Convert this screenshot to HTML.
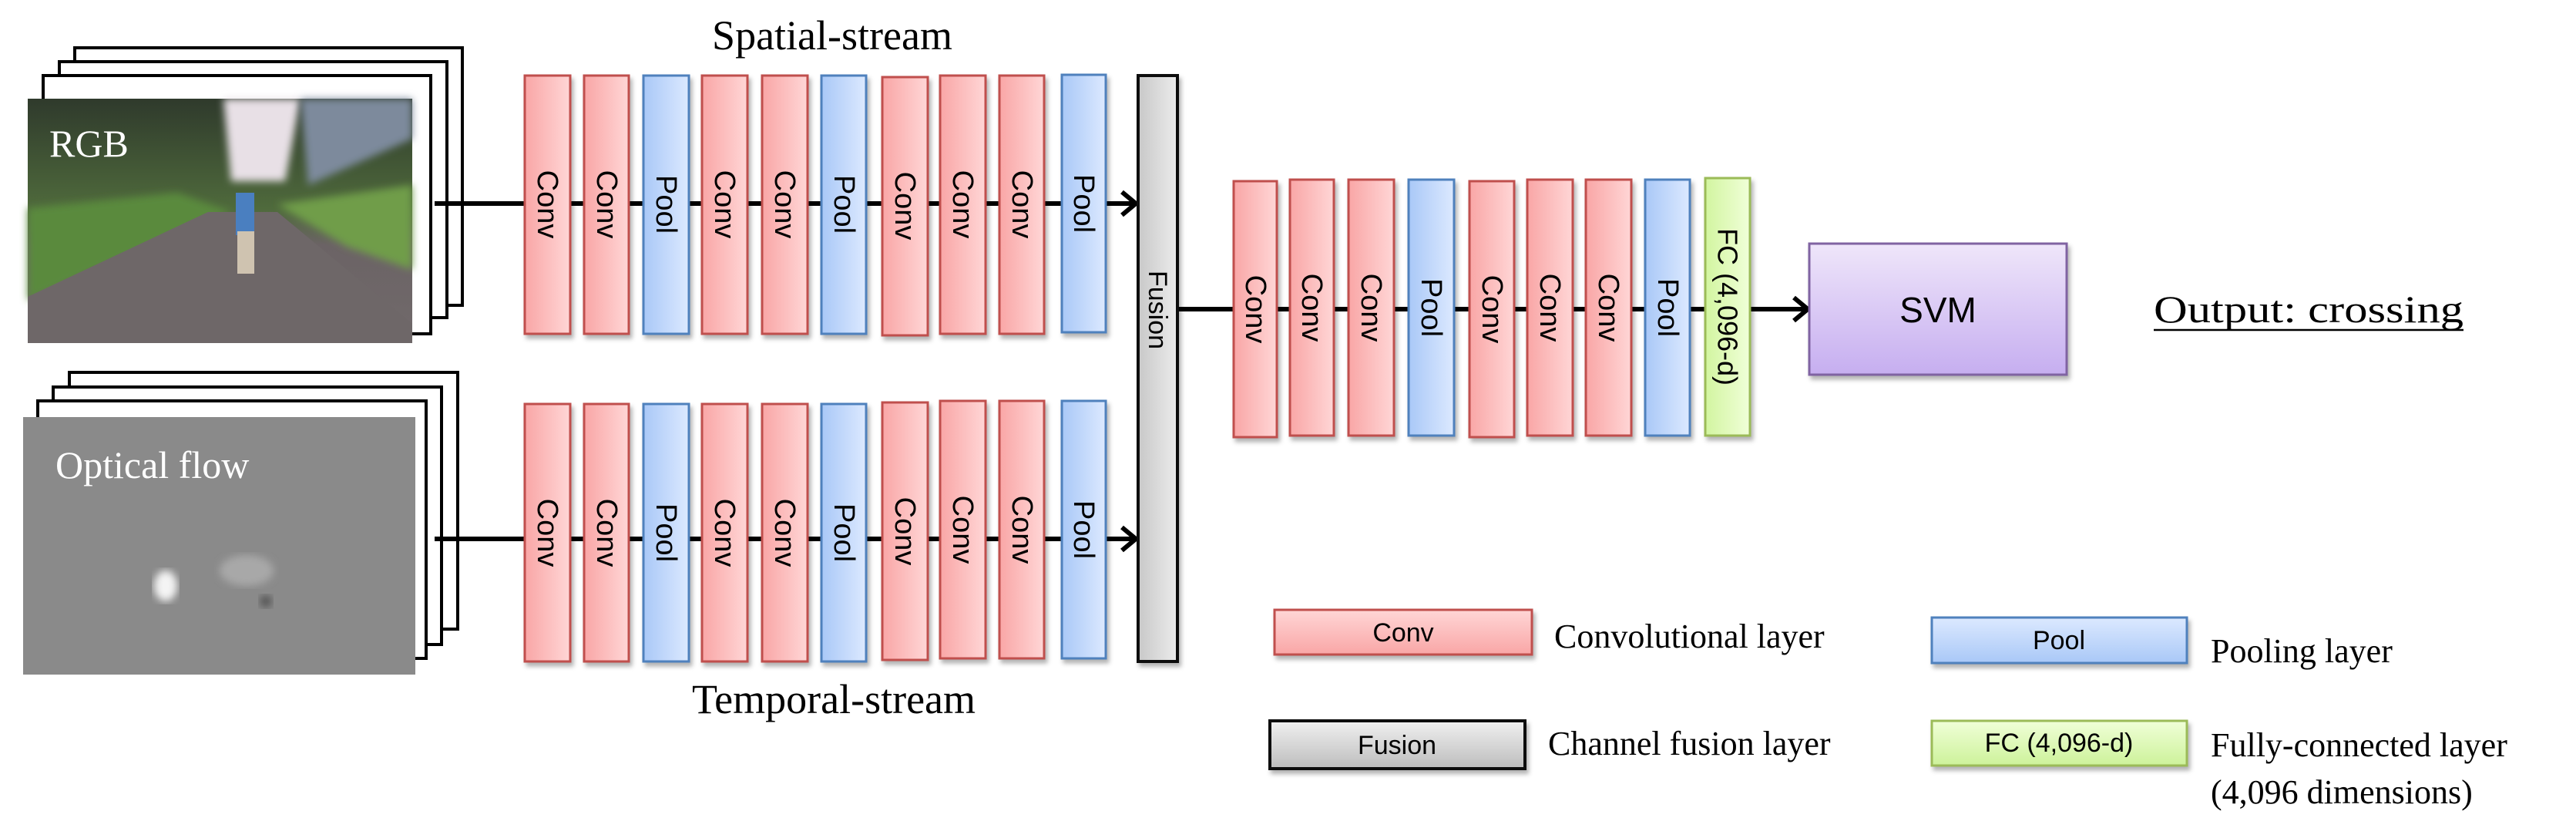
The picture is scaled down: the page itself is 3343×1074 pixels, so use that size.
<!DOCTYPE html>
<html><head><meta charset="utf-8"><style>
html,body{margin:0;padding:0;background:#fff}
svg{display:block}
.s{font-family:"Liberation Sans",sans-serif}
.t{font-family:"Liberation Serif",serif}
</style></head><body>
<svg width="3343" height="1074" viewBox="0 0 3343 1074" xmlns="http://www.w3.org/2000/svg">
<defs>
<linearGradient id="gc" x1="0" y1="0" x2="1" y2="0"><stop offset="0" stop-color="#f9a6a6"/><stop offset="1" stop-color="#ffd6d6"/></linearGradient>
<linearGradient id="gp" x1="0" y1="0" x2="1" y2="0"><stop offset="0" stop-color="#a9c8f7"/><stop offset="1" stop-color="#dce9ff"/></linearGradient>
<linearGradient id="gf" x1="0" y1="0" x2="1" y2="0"><stop offset="0" stop-color="#c8c8c8"/><stop offset="1" stop-color="#ececec"/></linearGradient>
<linearGradient id="gg" x1="0" y1="0" x2="1" y2="0"><stop offset="0" stop-color="#d2f5a0"/><stop offset="1" stop-color="#f0ffd8"/></linearGradient>
<linearGradient id="gcv" x1="0" y1="0" x2="0" y2="1"><stop offset="0" stop-color="#ffd6d6"/><stop offset="1" stop-color="#f9a6a6"/></linearGradient>
<linearGradient id="gpv" x1="0" y1="0" x2="0" y2="1"><stop offset="0" stop-color="#dce9ff"/><stop offset="1" stop-color="#a9c8f7"/></linearGradient>
<linearGradient id="gfv" x1="0" y1="0" x2="0" y2="1"><stop offset="0" stop-color="#f0f0f0"/><stop offset="1" stop-color="#bdbdbd"/></linearGradient>
<linearGradient id="ggv" x1="0" y1="0" x2="0" y2="1"><stop offset="0" stop-color="#f0ffd8"/><stop offset="1" stop-color="#cdf29a"/></linearGradient>
<linearGradient id="gsvm" x1="0" y1="0" x2="0" y2="1"><stop offset="0" stop-color="#efe6fa"/><stop offset="1" stop-color="#c6aef0"/></linearGradient>
<linearGradient id="road" x1="0" y1="0" x2="0" y2="1"><stop offset="0" stop-color="#2f3a2c"/><stop offset="0.45" stop-color="#4f6a3c"/><stop offset="0.6" stop-color="#6b6365"/><stop offset="1" stop-color="#716a6b"/></linearGradient>
<filter id="sh" x="-20%" y="-20%" width="140%" height="140%"><feDropShadow dx="3" dy="5" stdDeviation="3" flood-color="#000" flood-opacity="0.3"/></filter>
<filter id="bl"><feGaussianBlur stdDeviation="5"/></filter>
<marker id="ar" markerWidth="30" markerHeight="36" refX="24" refY="18" orient="auto" markerUnits="userSpaceOnUse" viewBox="0 0 30 36"><path d="M6 3 L24 18 L6 33" fill="none" stroke="#000" stroke-width="6"/></marker>
</defs>

<!-- top stack -->
<g fill="#fff" stroke="#000" stroke-width="4">
<rect x="97" y="62" width="503" height="334"/>
<rect x="77" y="80" width="503" height="332"/>
<rect x="56" y="98" width="503" height="335"/>
</g>
<g>
<rect x="36" y="128" width="499" height="317" fill="url(#road)"/>
<polygon points="290,128 390,128 370,235 300,235" fill="#e8e0e6" filter="url(#bl)"/>
<polygon points="390,128 535,128 535,180 400,240" fill="#7d8a9c" filter="url(#bl)"/>
<polygon points="36,270 230,250 300,275 36,390" fill="#5a8a3c" filter="url(#bl)"/>
<polygon points="360,265 535,240 535,350 450,320" fill="#6f9d4a" filter="url(#bl)"/>
<polygon points="36,385 270,275 360,275 535,420 535,445 36,445" fill="#6e6768"/>
<rect x="306" y="250" width="24" height="55" fill="#4a7fc0"/>
<rect x="308" y="300" width="22" height="55" fill="#cfc3b0"/>
</g>
<text x="64" y="203" class="t" font-size="50" fill="#fff">RGB</text>

<!-- bottom stack -->
<g fill="#fff" stroke="#000" stroke-width="4">
<rect x="90" y="483" width="504" height="333"/>
<rect x="69" y="502" width="504" height="334"/>
<rect x="49" y="520" width="504" height="334"/>
</g>
<rect x="30" y="541" width="509" height="334" fill="#8a8a8a"/>
<ellipse cx="215" cy="760" rx="15" ry="20" fill="#f4f4f4" filter="url(#bl)"/>
<ellipse cx="320" cy="740" rx="35" ry="20" fill="#a8a8a8" filter="url(#bl)"/>
<ellipse cx="345" cy="780" rx="8" ry="8" fill="#555" filter="url(#bl)"/>
<text x="72" y="620" class="t" font-size="50" fill="#fff">Optical flow</text>

<!-- arrows -->
<line x1="564" y1="264" x2="1474" y2="264" stroke="#000" stroke-width="6" marker-end="url(#ar)"/>
<line x1="564" y1="699" x2="1474" y2="699" stroke="#000" stroke-width="6" marker-end="url(#ar)"/>
<line x1="1528" y1="401" x2="2346" y2="401" stroke="#000" stroke-width="6" marker-end="url(#ar)"/>

<text x="1080" y="64" text-anchor="middle" class="t" font-size="54">Spatial-stream</text>
<text x="1082" y="925" text-anchor="middle" class="t" font-size="54">Temporal-stream</text>

<g filter="url(#sh)" stroke-width="3">
<rect x="681" y="98" width="59" height="335" fill="url(#gc)" stroke="#c0504d"/>
<rect x="758" y="98" width="58" height="335" fill="url(#gc)" stroke="#c0504d"/>
<rect x="835" y="98" width="59" height="335" fill="url(#gp)" stroke="#4f81bd"/>
<rect x="911" y="98" width="59" height="335" fill="url(#gc)" stroke="#c0504d"/>
<rect x="989" y="98" width="59" height="335" fill="url(#gc)" stroke="#c0504d"/>
<rect x="1066" y="98" width="58" height="335" fill="url(#gp)" stroke="#4f81bd"/>
<rect x="1145" y="100" width="59" height="335" fill="url(#gc)" stroke="#c0504d"/>
<rect x="1220" y="98" width="59" height="335" fill="url(#gc)" stroke="#c0504d"/>
<rect x="1297" y="98" width="58" height="335" fill="url(#gc)" stroke="#c0504d"/>
<rect x="1378" y="97" width="57" height="334" fill="url(#gp)" stroke="#4f81bd"/>
<rect x="681" y="524" width="59" height="334" fill="url(#gc)" stroke="#c0504d"/>
<rect x="758" y="524" width="58" height="334" fill="url(#gc)" stroke="#c0504d"/>
<rect x="835" y="524" width="59" height="334" fill="url(#gp)" stroke="#4f81bd"/>
<rect x="911" y="524" width="59" height="334" fill="url(#gc)" stroke="#c0504d"/>
<rect x="989" y="524" width="59" height="334" fill="url(#gc)" stroke="#c0504d"/>
<rect x="1066" y="524" width="58" height="334" fill="url(#gp)" stroke="#4f81bd"/>
<rect x="1145" y="522" width="59" height="334" fill="url(#gc)" stroke="#c0504d"/>
<rect x="1220" y="520" width="59" height="334" fill="url(#gc)" stroke="#c0504d"/>
<rect x="1297" y="520" width="58" height="334" fill="url(#gc)" stroke="#c0504d"/>
<rect x="1378" y="520" width="57" height="334" fill="url(#gp)" stroke="#4f81bd"/>
<rect x="1477" y="98" width="51" height="760" fill="url(#gf)" stroke="#111" stroke-width="4"/>
<rect x="1601" y="235" width="56" height="332" fill="url(#gc)" stroke="#c0504d"/>
<rect x="1674" y="233" width="57" height="332" fill="url(#gc)" stroke="#c0504d"/>
<rect x="1750" y="233" width="59" height="332" fill="url(#gc)" stroke="#c0504d"/>
<rect x="1828" y="233" width="59" height="332" fill="url(#gp)" stroke="#4f81bd"/>
<rect x="1907" y="235" width="58" height="332" fill="url(#gc)" stroke="#c0504d"/>
<rect x="1982" y="233" width="59" height="332" fill="url(#gc)" stroke="#c0504d"/>
<rect x="2058" y="233" width="59" height="332" fill="url(#gc)" stroke="#c0504d"/>
<rect x="2135" y="233" width="58" height="332" fill="url(#gp)" stroke="#4f81bd"/>
<rect x="2213" y="231" width="58" height="334" fill="url(#gg)" stroke="#9bbb59"/>
<rect x="2348" y="316" width="334" height="170" fill="url(#gsvm)" stroke="#8064a2"/>
<rect x="1654" y="791" width="334" height="58" fill="url(#gcv)" stroke="#c0504d"/>
<rect x="2507" y="801" width="331" height="59" fill="url(#gpv)" stroke="#4f81bd"/>
<rect x="1648" y="935" width="331" height="62" fill="url(#gfv)" stroke="#111" stroke-width="4"/>
<rect x="2507" y="935" width="331" height="58" fill="url(#ggv)" stroke="#9bbb59"/>
</g>

<g class="s" font-size="38" fill="#000" text-anchor="middle" dominant-baseline="central">
<text transform="translate(710,265) rotate(90)">Conv</text>
<text transform="translate(787,265) rotate(90)">Conv</text>
<text transform="translate(864,265) rotate(90)">Pool</text>
<text transform="translate(940,265) rotate(90)">Conv</text>
<text transform="translate(1018,265) rotate(90)">Conv</text>
<text transform="translate(1095,265) rotate(90)">Pool</text>
<text transform="translate(1174,267) rotate(90)">Conv</text>
<text transform="translate(1249,265) rotate(90)">Conv</text>
<text transform="translate(1326,265) rotate(90)">Conv</text>
<text transform="translate(1406,264) rotate(90)">Pool</text>
<text transform="translate(710,691) rotate(90)">Conv</text>
<text transform="translate(787,691) rotate(90)">Conv</text>
<text transform="translate(864,691) rotate(90)">Pool</text>
<text transform="translate(940,691) rotate(90)">Conv</text>
<text transform="translate(1018,691) rotate(90)">Conv</text>
<text transform="translate(1095,691) rotate(90)">Pool</text>
<text transform="translate(1174,689) rotate(90)">Conv</text>
<text transform="translate(1249,687) rotate(90)">Conv</text>
<text transform="translate(1326,687) rotate(90)">Conv</text>
<text transform="translate(1406,687) rotate(90)">Pool</text>
<text transform="translate(1502,402) rotate(90)" font-size="34">Fusion</text>
<text transform="translate(1629,401) rotate(90)">Conv</text>
<text transform="translate(1702,399) rotate(90)">Conv</text>
<text transform="translate(1779,399) rotate(90)">Conv</text>
<text transform="translate(1857,399) rotate(90)">Pool</text>
<text transform="translate(1936,401) rotate(90)">Conv</text>
<text transform="translate(2011,399) rotate(90)">Conv</text>
<text transform="translate(2087,399) rotate(90)">Conv</text>
<text transform="translate(2164,399) rotate(90)">Pool</text>
<text transform="translate(2242,398) rotate(90)" font-size="36">FC (4,096-d)</text>
</g>

<g class="s" text-anchor="middle" dominant-baseline="central" fill="#000">
<text x="2515" y="402" font-size="46">SVM</text>
<text x="1821" y="821" font-size="34">Conv</text>
<text x="2672" y="831" font-size="34">Pool</text>
<text x="1813" y="967" font-size="34">Fusion</text>
<text x="2672" y="964" font-size="34">FC (4,096-d)</text>
</g>

<g class="t" font-size="44" fill="#000">
<text x="2795" y="418" font-size="50" textLength="402" lengthAdjust="spacingAndGlyphs">Output: crossing</text>
<line x1="2795" y1="428" x2="3197" y2="428" stroke="#000" stroke-width="2.5"/>
<text x="2017" y="840">Convolutional layer</text>
<text x="2869" y="859">Pooling layer</text>
<text x="2009" y="979">Channel fusion layer</text>
<text x="2869" y="981">Fully-connected layer</text>
<text x="2869" y="1042">(4,096 dimensions)</text>
</g>
</svg>
</body></html>
